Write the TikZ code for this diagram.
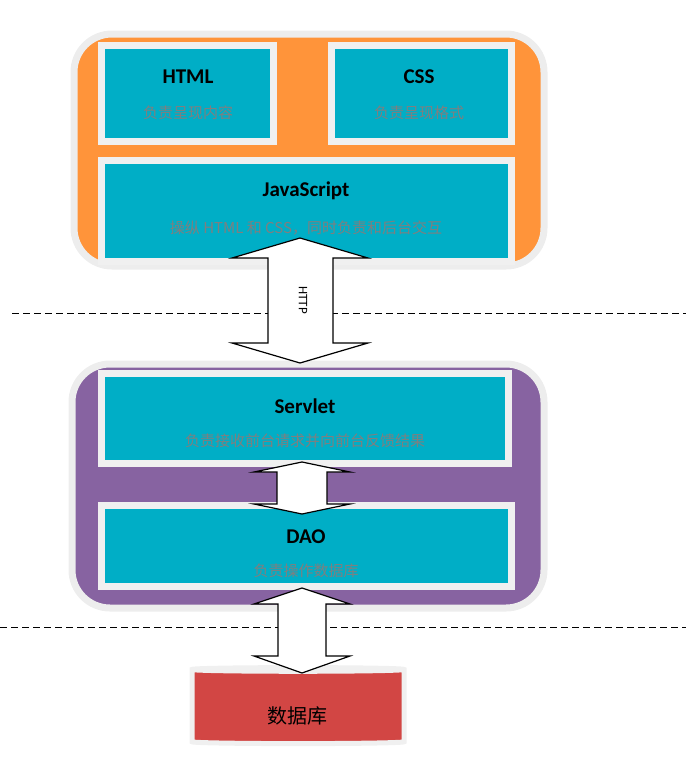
\documentclass[tikz,border=0pt]{standalone}
\usepackage{fontspec}
\setmainfont{Carlito}
\newfontfamily\cjk{Noto Sans CJK SC}
\usetikzlibrary{shapes.geometric}
\definecolor{cy}{HTML}{00AEC6}
\definecolor{org}{HTML}{FF943A}
\definecolor{pur}{HTML}{8763A1}
\definecolor{dbr}{HTML}{D24644}
\definecolor{dbt}{HTML}{E07272}
\definecolor{sub}{HTML}{7F7F7F}
\begin{document}
\begin{tikzpicture}[x=1pt,y=-1pt,
  outer/.style={draw=white!93!black,line width=7pt,rounded corners=38pt},
  panel/.style={fill=cy,draw=white!94!black,line width=7pt},
  ttl/.style={font=\bfseries\fontsize{21}{21}\selectfont,text=black},
  sb/.style={font=\cjk\fontsize{15}{15}\selectfont,text=sub},
  dar/.style={fill=white,draw=black,line width=1.2pt,line join=miter},
  sep/.style={line width=1pt,dash pattern=on 7pt off 4pt}]
\useasboundingbox (0,0) rectangle (686,764);
% outer panels
\draw[outer,fill=org] (74,34) rectangle (544,266);
\draw[outer,fill=pur] (72,364) rectangle (544,608);
% top panels
\node[panel,minimum width=172pt,minimum height=96pt] (html) at (187.5,93.5) {};
\node[panel,minimum width=180pt,minimum height=96pt] (css) at (421.5,93.5) {};
\node[panel,minimum width=410pt,minimum height=101pt] (js) at (306.5,211) {};
\node[ttl] (t1) at (188,77) {HTML};
\node[sb] (s1) at (188,113) {负责呈现内容};
\node[ttl] (t2) at (419,77) {CSS};
\node[sb] (s2) at (419,113) {负责呈现格式};
\node[ttl] (t3) at (306,191) {JavaScript};
\node[sb] (s3) at (306,228) {操纵 HTML 和 CSS，同时负责和后台交互};
% server panels
\node[panel,minimum width=407pt,minimum height=90pt] (srv) at (305,418.5) {};
\node[panel,minimum width=410pt,minimum height=81pt] (dao) at (306.5,546) {};
\node[ttl] (t4) at (305,406) {Servlet};
\node[sb] (s4) at (305,441) {负责接收前台请求并向前台反馈结果};
\node[ttl] (t5) at (306,537) {DAO};
\node[sb] (s5) at (306,571) {负责操作数据库};
% dashed lines
\coordinate (d1a) at (12,313); \coordinate (d1b) at (686,313);
\coordinate (d2a) at (0,627); \coordinate (d2b) at (686,627);
\draw[sep] (d1a) -- (d1b);
\draw[sep] (d2a) -- (d2b);
% database
\node[cylinder,shape border rotate=90,draw=white!94!black,line width=5pt,fill=dbr,
  cylinder uses custom fill,cylinder body fill=dbr,cylinder end fill=dbt,
  aspect=0.55,minimum width=212pt,minimum height=76pt] (db) at (298,708) {};
\node[font=\cjk\fontsize{20}{20}\selectfont] (dbl) at (297,716) {数据库};
% arrows
\draw[dar] (300,238) -- (368,258) -- (333,258) -- (333,343) -- (368,343) -- (300,363)
  -- (232,343) -- (268,343) -- (268,258) -- (232,258) -- cycle;
\node[rotate=-90,font=\fontsize{13}{13}\selectfont] (http) at (303,300) {HTTP};
\draw[dar] (302,462) -- (350,472) -- (327,472) -- (327,504) -- (350,504) -- (302,514)
  -- (254,504) -- (277,504) -- (277,472) -- (254,472) -- cycle;
\draw[dar] (302,588) -- (350,604) -- (326,604) -- (326,656) -- (350,656) -- (302,673)
  -- (254,656) -- (278,656) -- (278,604) -- (254,604) -- cycle;
\end{tikzpicture}
\end{document}
